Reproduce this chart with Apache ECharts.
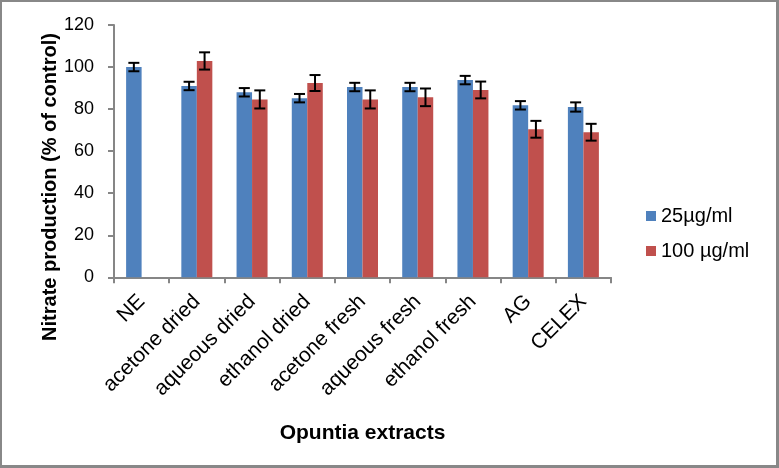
<!DOCTYPE html>
<html>
<head>
<meta charset="utf-8">
<script src="https://cdn.jsdelivr.net/npm/echarts@6/dist/echarts.min.js"></script>
<style>
html,body{margin:0;padding:0;background:#fff;}
#c{width:779px;height:468px;}
</style>
</head>
<body>
<div id="c"></div>
<script>
const categories = ['NE','acetone dried','aqueous dried','ethanol dried','acetone fresh','aqueous fresh','ethanol fresh','AG','CELEX'];
const seriesNames = ['25µg/ml','100 µg/ml'];
const values25 = [100, 91, 88, 85.2, 90.5, 90.5, 93.8, 81.8, 81];
const err25 = [2, 2, 2, 2, 2, 2, 2, 2, 2.2];
const values100 = [null, 102.9, 84.6, 92.4, 84.6, 85.6, 89.1, 70.4, 69];
const err100 = [null, 4.1, 4.3, 3.8, 4.3, 4.2, 4, 4, 4];
const yTicks = {min: 0, max: 120, interval: 20};
const yTitle = 'Nitrate production (% of control)';
const xTitle = 'Opuntia extracts';

const BAR_W = 15.5;
const FONT = 'Liberation Sans, Arial, sans-serif';
const chart = echarts.init(document.getElementById('c'), null, {renderer: 'canvas'});

function errSeries(vals, errs, side) {
  const data = vals.map((v, i) => v == null ? [i, null, null] : [i, v, errs[i]]);
  return {
    type: 'custom',
    name: 'err' + side,
    silent: true,
    z: 10,
    renderItem: function (params, api) {
      const idx = api.value(0);
      const v = api.value(1);
      const e = api.value(2);
      if (v == null || isNaN(v)) return;
      const hi = api.coord([idx, v + e]);
      const lo = api.coord([idx, v - e]);
      const x = hi[0] + side * BAR_W / 2;
      const cap = 5.5;
      const st = {stroke: '#000', lineWidth: 2};
      return {
        type: 'group',
        children: [
          {type: 'line', shape: {x1: x, y1: hi[1], x2: x, y2: lo[1]}, style: st},
          {type: 'line', shape: {x1: x - cap, y1: hi[1], x2: x + cap, y2: hi[1]}, style: st},
          {type: 'line', shape: {x1: x - cap, y1: lo[1], x2: x + cap, y2: lo[1]}, style: st}
        ]
      };
    },
    encode: {x: 0, y: 1},
    data: data
  };
}

const option = {
  backgroundColor: '#fff',
  animation: false,
  textStyle: {fontFamily: FONT},
  grid: {left: 114, right: 168, top: 25, bottom: 190.7, containLabel: false},
  legend: {
    orient: 'vertical',
    left: 641,
    top: 200,
    itemWidth: 10,
    itemHeight: 10,
    itemGap: 13,
    icon: 'rect',
    data: seriesNames,
    textStyle: {fontSize: 20, color: '#000', lineHeight: 22, fontFamily: FONT}
  },
  xAxis: {
    type: 'category',
    data: categories,
    name: xTitle,
    nameLocation: 'middle',
    nameGap: 145,
    nameTextStyle: {fontSize: 21, fontWeight: 'bold', color: '#000'},
    axisLine: {lineStyle: {color: '#868686', width: 2}},
    axisTick: {show: true, length: 6, lineStyle: {color: '#868686', width: 2}},
    axisLabel: {rotate: 45, interval: 0, fontSize: 21, color: '#000', margin: 21},
    splitLine: {show: false}
  },
  yAxis: {
    type: 'value',
    min: yTicks.min,
    max: yTicks.max,
    interval: yTicks.interval,
    axisLine: {show: true, lineStyle: {color: '#868686', width: 2}},
    axisTick: {show: true, inside: false, length: 6, lineStyle: {color: '#868686', width: 2}},
    axisLabel: {fontSize: 18, color: '#000', margin: 20},
    splitLine: {show: false}
  },
  series: [
    {name: seriesNames[0], type: 'bar', data: values25, barWidth: BAR_W, barGap: '0%', itemStyle: {color: '#4F81BD'}},
    {name: seriesNames[1], type: 'bar', data: values100, barWidth: BAR_W, barGap: '0%', itemStyle: {color: '#C0504D'}},
    errSeries(values25, err25, -1),
    errSeries(values100, err100, 1)
  ],
  graphic: [
    {type: 'text', x: 50.5, y: 187, rotation: Math.PI / 2,
     style: {text: yTitle, fill: '#000', font: 'bold 20px ' + FONT, textAlign: 'center', textVerticalAlign: 'middle'}},
    {type: 'rect', left: 0, top: 0, shape: {width: 2, height: 468}, style: {fill: '#888'}, z: 100},
    {type: 'rect', left: 0, top: 0, shape: {width: 779, height: 2}, style: {fill: '#888'}, z: 100},
    {type: 'rect', left: 776, top: 0, shape: {width: 3, height: 468}, style: {fill: '#888'}, z: 100},
    {type: 'rect', left: 0, top: 465, shape: {width: 779, height: 3}, style: {fill: '#888'}, z: 100}
  ]
};
chart.setOption(option);
</script>
</body>
</html>
